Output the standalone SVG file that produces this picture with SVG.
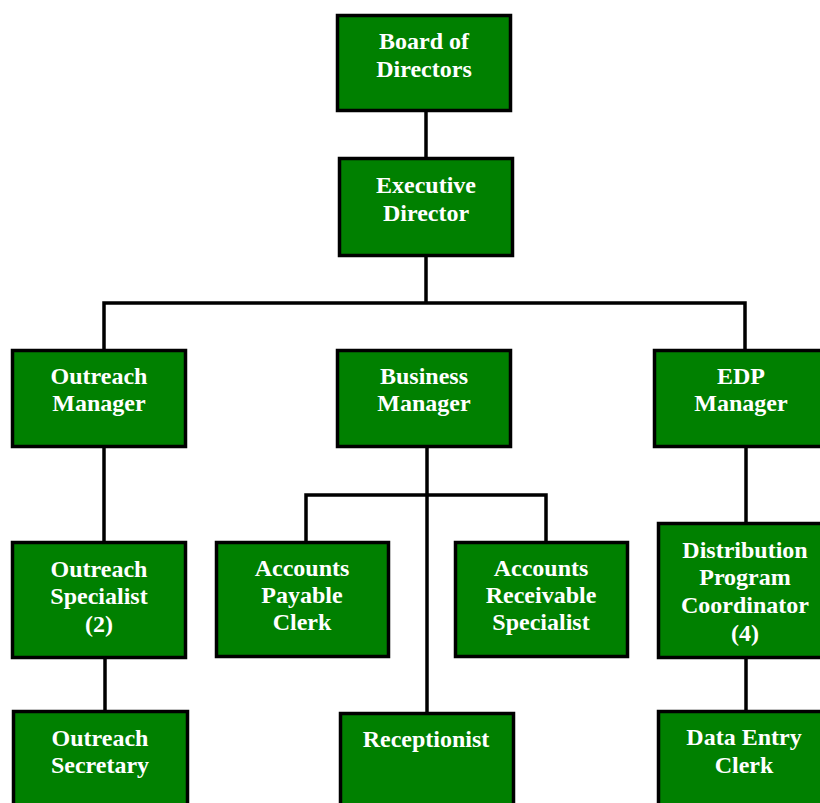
<svg xmlns="http://www.w3.org/2000/svg" width="820" height="803" viewBox="0 0 820 803">
<style>
.box{fill:#008000;stroke:#000;stroke-width:3.5}
.t{font-family:"Liberation Serif","Times New Roman",serif;font-weight:bold;font-size:24px;fill:#fff;text-anchor:middle}
.c{stroke:#000;stroke-width:3.5;fill:none}
</style>
<rect width="820" height="803" fill="#fff"/>
<g id="connectors">
<line class="c" x1="426" y1="110" x2="426" y2="158"/>
<line class="c" x1="426" y1="256" x2="426" y2="303"/>
<polyline class="c" points="104,351 104,303 745,303 745,351"/>
<line class="c" x1="104" y1="447" x2="104" y2="543"/>
<line class="c" x1="105" y1="658" x2="105" y2="712"/>
<line class="c" x1="427" y1="447" x2="427" y2="714"/>
<polyline class="c" points="306,542 306,495 546,495 546,542"/>
<line class="c" x1="746" y1="447" x2="746" y2="524"/>
<line class="c" x1="746" y1="658" x2="746" y2="711"/>
</g>
<g id="board">
<rect class="box" x="337.5" y="15.5" width="173" height="95"/>
<text class="t" x="424" y="49">Board of</text>
<text class="t" x="424" y="77">Directors</text>
</g>
<g id="executive">
<rect class="box" x="339.5" y="158.5" width="173" height="97"/>
<text class="t" x="426" y="193">Executive</text>
<text class="t" x="426" y="221">Director</text>
</g>
<g id="outreach-manager">
<rect class="box" x="12.5" y="350.5" width="173" height="96"/>
<text class="t" x="99" y="384">Outreach</text>
<text class="t" x="99" y="411">Manager</text>
</g>
<g id="business-manager">
<rect class="box" x="337.5" y="350.5" width="173" height="96"/>
<text class="t" x="424" y="384">Business</text>
<text class="t" x="424" y="411">Manager</text>
</g>
<g id="edp-manager">
<rect class="box" x="654.5" y="350.5" width="174" height="96"/>
<text class="t" x="741" y="384">EDP</text>
<text class="t" x="741" y="411">Manager</text>
</g>
<g id="outreach-specialist">
<rect class="box" x="12.5" y="542.5" width="173" height="115"/>
<text class="t" x="99" y="577">Outreach</text>
<text class="t" x="99" y="604">Specialist</text>
<text class="t" x="99" y="632">(2)</text>
</g>
<g id="accounts-payable">
<rect class="box" x="216.5" y="542.5" width="172" height="114"/>
<text class="t" x="302" y="576">Accounts</text>
<text class="t" x="302" y="603">Payable</text>
<text class="t" x="302" y="630">Clerk</text>
</g>
<g id="accounts-receivable">
<rect class="box" x="455.5" y="542.5" width="172" height="114"/>
<text class="t" x="541" y="576">Accounts</text>
<text class="t" x="541" y="603">Receivable</text>
<text class="t" x="541" y="630">Specialist</text>
</g>
<g id="distribution-coordinator">
<rect class="box" x="658.5" y="523.5" width="174" height="134"/>
<text class="t" x="745" y="558">Distribution</text>
<text class="t" x="745" y="585">Program</text>
<text class="t" x="745" y="613">Coordinator</text>
<text class="t" x="745" y="641">(4)</text>
</g>
<g id="outreach-secretary">
<rect class="box" x="13.5" y="711.5" width="174" height="110"/>
<text class="t" x="100" y="746">Outreach</text>
<text class="t" x="100" y="773">Secretary</text>
</g>
<g id="receptionist">
<rect class="box" x="340.5" y="713.5" width="173" height="110"/>
<text class="t" x="426" y="747">Receptionist</text>
</g>
<g id="data-entry-clerk">
<rect class="box" x="658.5" y="711.5" width="174" height="110"/>
<text class="t" x="744" y="745">Data Entry</text>
<text class="t" x="744" y="773">Clerk</text>
</g>
</svg>
